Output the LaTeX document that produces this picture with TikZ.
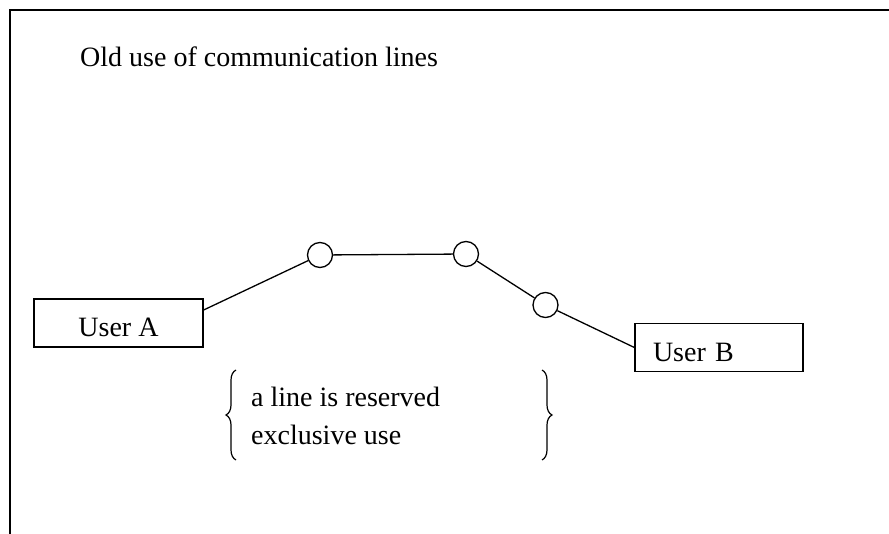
\documentclass[tikz,border=0pt]{standalone}
\usepackage{fontspec}
\setmainfont{Liberation Serif}
\usetikzlibrary{decorations.pathreplacing}
\begin{document}
\begin{tikzpicture}[x=1pt,y=-1pt,
  every node/.style={font=\fontsize{28}{34}\selectfont},
  frameline/.style={line width=1.6pt},
  conn/.style={line width=1.3pt},
  userbox/.style={draw,line width=1.3pt,minimum height=48pt,text height=28pt,text depth=0pt},
  hub/.style={draw,circle,line width=1.3pt,minimum size=25pt,inner sep=0pt},
  bracestyle/.style={line width=1.2pt,decorate,decoration={brace,amplitude=10pt}},
  plain/.style={inner sep=0pt,anchor=base west}]
\useasboundingbox (0,0) rectangle (889,534);
\draw[frameline] (889,10) -- (10,10) -- (10,534);
\node[plain] (title) at (80,67) {Old use of communication lines};
\node[userbox,minimum width=169pt] (A) at (118.5,323) {User A};
\node[userbox,minimum width=168pt,text width=132pt,inner xsep=18pt,align=left] (B) at (719,347.5) {User B};
\node[hub] (c1) at (320,255) {};
\node[hub] (c2) at (466,254) {};
\node[hub] (c3) at (545.5,305) {};
\draw[conn] ([yshift=13pt]A.east) -- (c1);
\draw[conn] (c1) -- (c2);
\draw[conn] (c2) -- (c3);
\draw[conn] (c3) -- (B.west);
\node[plain] (r1) at (251,407) {a line is reserved};
\node[plain] (r2) at (251,445) {exclusive use};
\coordinate (bl1) at (236,460);
\coordinate (bl2) at (236,370);
\coordinate (br1) at (542,370);
\coordinate (br2) at (542,460);
\draw[bracestyle] (bl1) -- (bl2);
\draw[bracestyle] (br1) -- (br2);
\end{tikzpicture}
\end{document}
